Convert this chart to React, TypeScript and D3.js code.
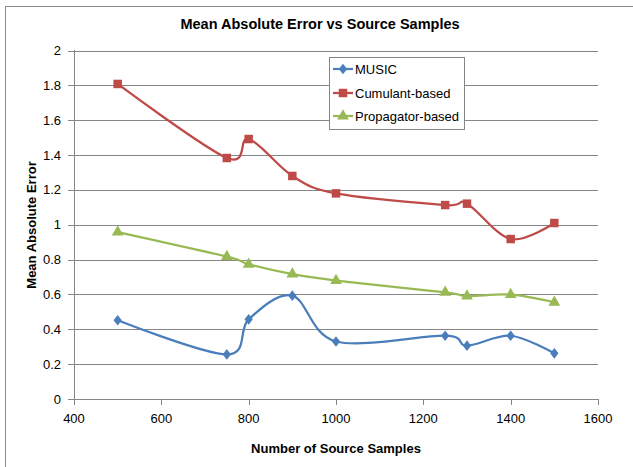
import React from "react";
import * as d3 from "d3";

const samples = [500, 750, 800, 900, 1000, 1250, 1300, 1400, 1500];
const musicValues = [0.452, 0.256, 0.457, 0.593, 0.33, 0.363, 0.306, 0.363, 0.262];
const cumulantValues = [1.808, 1.383, 1.492, 1.28, 1.18, 1.113, 1.121, 0.918, 1.01];
const propagatorValues = [0.958, 0.817, 0.773, 0.717, 0.68, 0.612, 0.591, 0.599, 0.555];
const seriesNames = ["MUSIC", "Cumulant-based", "Propagator-based"];
const xTicks = [400, 600, 800, 1000, 1200, 1400, 1600];
const yTicks = [0, 0.2, 0.4, 0.6, 0.8, 1, 1.2, 1.4, 1.6, 1.8, 2];

const W = 633, H = 467;
const FONT = "'Liberation Sans', Arial, sans-serif";

const colors = ["#4A7EBB", "#BE4B48", "#98B954"];
const shapes = [d3.symbolDiamond, d3.symbolSquare, d3.symbolTriangle];
const sizes = [45, 72, 60];

export default function App() {
  const x = d3.scaleLinear().domain([400, 1600]).range([74, 598]);
  const y = d3.scaleLinear().domain([0, 2]).range([399, 50.5]);
  const series = [musicValues, cumulantValues, propagatorValues];
  const line = d3
    .line<[number, number]>()
    .x((d) => x(d[0]))
    .y((d) => y(d[1]))
    .curve(d3.curveCardinal.tension(0));

  const legendX = 329, legendY = 57;
  const legendRows = [69, 93, 116];

  return (
    <svg width={W} height={H} style={{ position: "absolute", left: 0, top: 0 }}>
      <rect x={0} y={0} width={W} height={H} fill="#fff" />
      <rect x={5.5} y={6.5} width={700} height={500} fill="#fff" stroke="#8a8a8a" strokeWidth={1} />
      <text x={320} y={29} textAnchor="middle" fontFamily={FONT} fontWeight="bold" fontSize={14.5} fill="#000">
        Mean Absolute Error vs Source Samples
      </text>
      {yTicks.map((t) => (
        <g key={"gy" + t}>
          {t > 0 && (
            <line x1={74} x2={598} y1={Math.round(y(t)) + 0.5} y2={Math.round(y(t)) + 0.5} stroke="#868686" strokeWidth={1} />
          )}
          <line x1={68} x2={74} y1={Math.round(y(t)) + 0.5} y2={Math.round(y(t)) + 0.5} stroke="#868686" />
          <text x={61} y={y(t) + 4.5} textAnchor="end" fontFamily={FONT} fontSize={13} fill="#000">
            {String(t)}
          </text>
        </g>
      ))}
      <line x1={74.5} x2={74.5} y1={50} y2={399.5} stroke="#868686" />
      <line x1={74} x2={598.5} y1={399.5} y2={399.5} stroke="#868686" />
      {xTicks.map((t) => (
        <g key={"gx" + t}>
          <line x1={Math.round(x(t)) + 0.5} x2={Math.round(x(t)) + 0.5} y1={399} y2={405} stroke="#868686" />
          <text x={x(t)} y={423} textAnchor="middle" fontFamily={FONT} fontSize={13} fill="#000">
            {String(t)}
          </text>
        </g>
      ))}
      <text x={336} y={453} textAnchor="middle" fontFamily={FONT} fontWeight="bold" fontSize={13} fill="#000">
        Number of Source Samples
      </text>
      <text
        transform={`translate(36,225) rotate(-90)`}
        textAnchor="middle"
        fontFamily={FONT}
        fontWeight="bold"
        fontSize={13}
        fill="#000"
      >
        Mean Absolute Error
      </text>
      {series.map((vals, i) => {
        const pts = samples.map((s, j) => [s, vals[j]] as [number, number]);
        const sym = d3.symbol().type(shapes[i]).size(sizes[i])();
        return (
          <g key={"s" + i}>
            <path d={line(pts) || ""} fill="none" stroke={colors[i]} strokeWidth={2.25} />
            {pts.map((p, j) => (
              <path
                key={j}
                d={sym || ""}
                transform={`translate(${x(p[0])},${y(p[1])})${i === 0 ? " scale(1.15,0.85)" : ""}`}
                fill={colors[i]}
              />
            ))}
          </g>
        );
      })}
      <rect x={legendX + 0.5} y={legendY + 0.5} width={135} height={72} fill="#fff" stroke="#868686" />
      {seriesNames.map((n, i) => {
        const sym = d3.symbol().type(shapes[i]).size(sizes[i])();
        return (
          <g key={"l" + i}>
            <line x1={333} x2={353} y1={legendRows[i]} y2={legendRows[i]} stroke={colors[i]} strokeWidth={2.25} />
            <path d={sym || ""} transform={`translate(343,${legendRows[i]})${i === 0 ? " scale(1.15,0.85)" : ""}`} fill={colors[i]} />
            <text x={355} y={legendRows[i] + 4.5} fontFamily={FONT} fontSize={13} fill="#000">
              {n}
            </text>
          </g>
        );
      })}
    </svg>
  );
}
